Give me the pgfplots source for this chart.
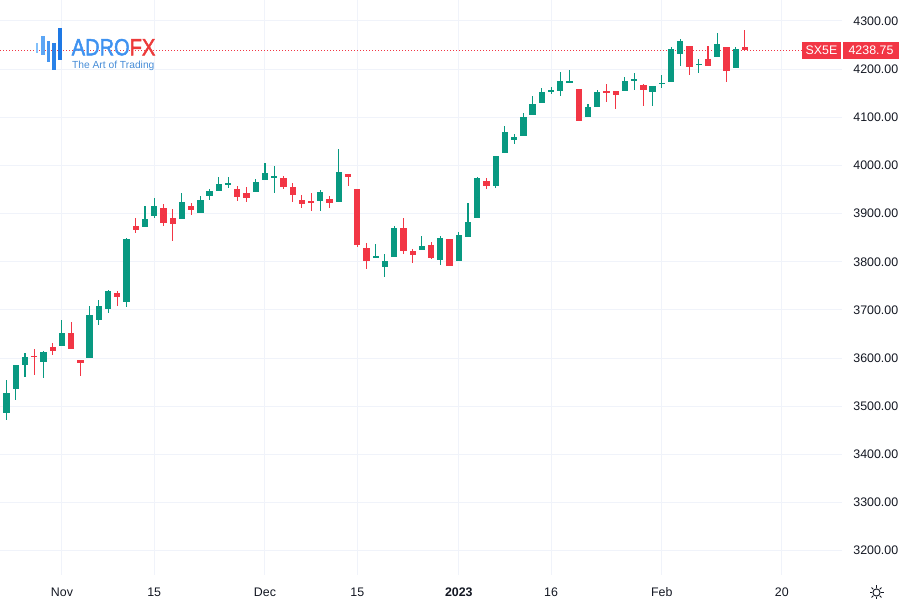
\documentclass[border=0pt]{standalone}
\usepackage{pgfplots}
\usepackage{pgfplotstable}
\pgfplotsset{compat=1.18}
\usepackage{fontspec}
\setmainfont{Liberation Sans}
\newfontfamily\logofont[FakeBold=2.2]{Liberation Sans}
\definecolor{cup}{RGB}{8,153,129}
\definecolor{cdn}{RGB}{242,54,69}
\definecolor{cgrid}{RGB}{240,243,250}
\definecolor{ctext}{RGB}{19,23,34}
\definecolor{lblue}{RGB}{62,146,240}
\definecolor{lred}{RGB}{236,58,58}
\definecolor{tblue}{RGB}{70,140,215}
\definecolor{ba}{RGB}{130,192,250}
\definecolor{bb}{RGB}{92,166,245}
\definecolor{bc}{RGB}{70,150,240}
\definecolor{bd}{RGB}{42,130,232}
\definecolor{be}{RGB}{30,120,228}

\pgfplotstableread{
i o h l c
-6 3486 3554 3472 3527
-5 3535 3586 3512 3585
-4 3585 3610 3560 3603
-2 3592 3614 3558 3612
0 3626 3680 3626 3651
3 3600 3709 3600 3689
4 3680 3720 3668 3708
5 3701 3741 3693 3739
7 3716 3849 3706 3847
9 3872 3915 3872 3888
10 3895 3933 3890 3915
13 3888 3942 3888 3925
15 3902 3936 3902 3929
16 3937 3951 3928 3947
17 3947 3975 3947 3961
18 3960 3976 3953 3963
21 3944 3971 3944 3966
22 3969 4005 3969 3985
23 3973 3999 3942 3978
28 3926 3949 3906 3944
30 3924 4035 3924 3987
34 3808 3836 3807 3811
35 3789 3816 3768 3802
36 3810 3874 3810 3871
39 3825 3854 3825 3832
41 3803 3853 3794 3849
43 3802 3862 3802 3855
44 3852 3921 3852 3883
45 3891 3976 3891 3974
47 3957 4019 3953 4019
48 4026 4082 4026 4070
49 4052 4065 4044 4059
50 4061 4109 4061 4100
51 4105 4144 4105 4127
52 4129 4160 4129 4152
53 4154 4163 4148 4157
54 4154 4195 4144 4176
55 4171 4198 4171 4175
57 4100 4127 4100 4121
58 4121 4157 4121 4153
61 4155 4184 4155 4176
62 4177 4191 4157 4179
64 4153 4165 4124 4165
65 4169 4188 4160 4172
66 4174 4245 4174 4241
67 4231 4262 4206 4259
69 4209 4222 4193 4211
71 4226 4276 4226 4252
73 4202 4245 4202 4241
}\up

\pgfplotstableread{
i o h l c
-3 3605 3618 3565 3602
-1 3622 3632 3606 3615
1 3653 3674 3618 3619
2 3596 3596 3562 3590
6 3735 3739 3708 3727
8 3874 3890 3860 3866
11 3911 3920 3874 3881
12 3890 3909 3844 3879
14 3915 3922 3897 3907
19 3952 3958 3926 3935
20 3942 3955 3924 3933
24 3974 3978 3952 3955
25 3955 3963 3924 3938
26 3929 3938 3912 3920
27 3926 3942 3905 3921
29 3931 3936 3911 3921
31 3982 3982 3957 3975
32 3951 3951 3831 3835
33 3829 3838 3784 3802
37 3871 3890 3817 3822
38 3823 3827 3798 3815
40 3834 3841 3805 3807
42 3847 3847 3791 3791
46 3967 3974 3951 3958
56 4158 4158 4093 4093
59 4155 4169 4132 4152
60 4154 4155 4117 4146
63 4168 4169 4124 4157
68 4248 4248 4188 4205
70 4221 4249 4207 4207
72 4245 4245 4174 4197
74 4245 4281 4237 4238.75
}\dn

\begin{document}
\begin{tikzpicture}
\begin{axis}[
  scale only axis,
  width=631.5pt, height=431.25pt,
  xmin=-6.71, xmax=84.52,
  ymin=3149.4, ymax=4343.6,
  axis line style={draw=none},
  tick style={draw=none},
  grid=major,
  major grid style={color=cgrid, line width=0.75pt},
  xtick={0,10,22,32,43,53,65,78},
  xticklabels={Nov,15,Dec,15,\textbf{2023},16,Feb,20},
  ytick={3200,3300,3400,3500,3600,3700,3800,3900,4000,4100,4200,4300},
  yticklabel pos=right,
  /pgf/number format/assume math mode=true,
  y tick label style={/pgf/number format/fixed, /pgf/number format/fixed zerofill, /pgf/number format/precision=2, /pgf/number format/1000 sep={}},
  y tick label style={font=\fontsize{9.3}{11}\selectfont, text=ctext, xshift=5pt},
  x tick label style={font=\fontsize{9.3}{11}\selectfont, text=ctext, yshift=-6pt},
  candle/.style={only marks, mark=*, mark size=0pt, mark options={draw=none, fill=none},
    error bars/y dir=both, error bars/y explicit, error bars/error mark=none},
]
\draw[cdn, line width=0.75pt, dash pattern=on 0.75pt off 1.5pt] (axis cs:-6.71,4238.75) -- (axis cs:80.2,4238.75);
% wicks
\addplot[candle, error bars/error bar style={line width=0.8pt, color=cup}]
  table[x=i, y expr={(\thisrow{h}+\thisrow{l})/2}, y error expr={(\thisrow{h}-\thisrow{l})/2}] {\up};
\addplot[candle, error bars/error bar style={line width=0.8pt, color=cdn}]
  table[x=i, y expr={(\thisrow{h}+\thisrow{l})/2}, y error expr={(\thisrow{h}-\thisrow{l})/2}] {\dn};
% bodies
\addplot[candle, error bars/error bar style={line width=4.7pt, color=cup}]
  table[x=i, y expr={(\thisrow{o}+\thisrow{c})/2}, y error expr={max(abs(\thisrow{c}-\thisrow{o})/2,1.1)}] {\up};
\addplot[candle, error bars/error bar style={line width=4.7pt, color=cdn}]
  table[x=i, y expr={(\thisrow{o}+\thisrow{c})/2}, y error expr={max(abs(\thisrow{c}-\thisrow{o})/2,1.1)}] {\dn};
\coordinate (NW) at (rel axis cs:0,1);
\end{axis}
\begin{scope}[shift={(NW)}, x=0.75pt, y=-0.75pt]
  % logo icon
  \fill[ba] (35.7,43.3) rectangle (38.2,53.3);
  \fill[bb] (41,35.7) rectangle (44.8,55);
  \fill[bc] (46.7,41) rectangle (49.5,61.7);
  \fill[bd] (52.3,43.3) rectangle (55.8,70);
  \fill[be] (58.3,28.3) rectangle (62.2,60);
  \node[anchor=base west, inner sep=0, xscale=0.86, font=\logofont\fontsize{17.5}{18}\selectfont] at (71.5,55.3) {\textcolor{lblue}{ADRO}\textcolor{lred}{FX}};
  \node[anchor=base west, inner sep=0, font=\fontsize{7.7}{8}\selectfont, text=tblue] at (71.8,68.8) {The Art of Trading};
  % price labels
  \node[fill=cdn, text=white, inner sep=0, minimum width=29.25pt, minimum height=13.2pt, font=\fontsize{9.3}{11}\selectfont] at (821.5,50.5) {SX5E};
  \node[fill=cdn, text=white, inner sep=0, minimum width=42pt, minimum height=13.2pt, font=\fontsize{9.3}{11}\selectfont] at (871,50.5) {4238.75};
  % settings icon
  \draw[ctext, line width=0.7pt] (876.5,592.5) circle[radius=3.6];
  \foreach \a in {0,45,...,315} {\draw[ctext, line width=0.7pt] (876.5,592.5) ++(\a:4.6) -- ++(\a:2.4);}
  \pgfresetboundingbox
  \useasboundingbox (0,0) rectangle (904,606);
\end{scope}
\end{tikzpicture}
\end{document}
